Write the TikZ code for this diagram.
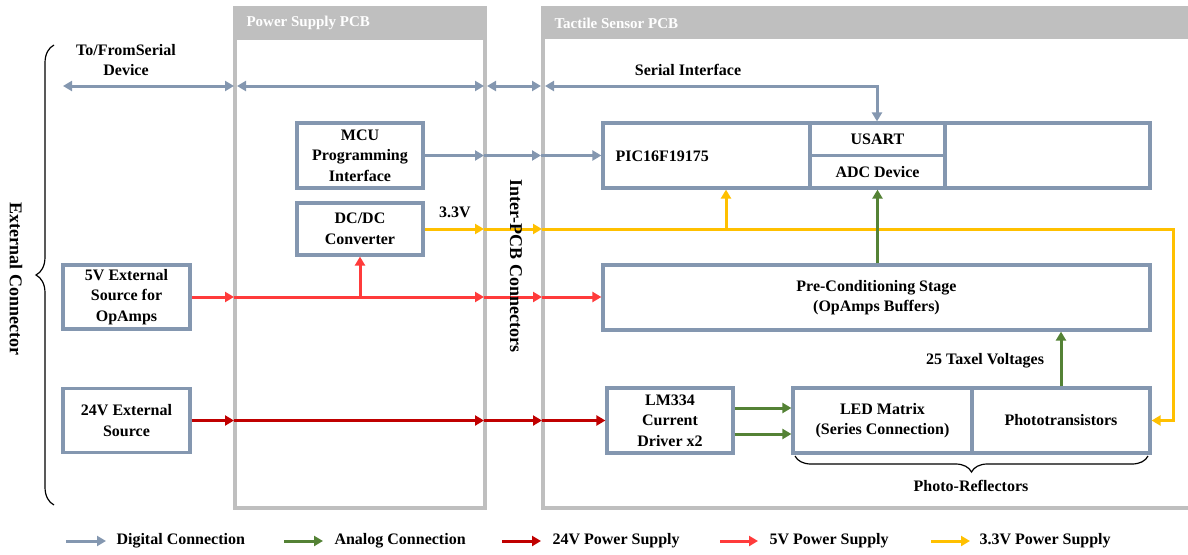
\documentclass[tikz,border=0pt]{standalone}
\usepackage{fontspec}
\setmainfont{Liberation Serif}
\usetikzlibrary{arrows.meta,decorations.pathreplacing,calc}
\definecolor{dig}{HTML}{8497B0}
\definecolor{ana}{HTML}{548235}
\definecolor{pwA}{HTML}{C00000}
\definecolor{pwB}{HTML}{FF3B3B}
\definecolor{pwC}{HTML}{FFC000}
\definecolor{pcb}{HTML}{BFBFBF}
\tikzset{
  >={Triangle[length=9pt,width=10pt]},
  blk/.style={draw=dig, line width=3.2pt, fill=white, align=center, inner sep=0pt},
  lbl/.style={align=center},
  pcbline/.style={draw=pcb, line width=3.5pt},
  pcbtitle/.style={text=white, font=\fontsize{15}{18}\selectfont\bfseries, anchor=west},
  sidetext/.style={font=\fontsize{18}{21}\selectfont\bfseries, rotate=-90},
  dg/.style={draw=dig, line width=3pt},
  an/.style={draw=ana, line width=3pt},
  p24/.style={draw=pwA, line width=3pt},
  p5/.style={draw=pwB, line width=3pt},
  p33/.style={draw=pwC, line width=3pt},
  brc/.style={draw=black, line width=1.2pt, decorate, decoration={brace, amplitude=#1}},
}
\begin{document}
\begin{tikzpicture}[x=1pt, y=-1pt, font=\fontsize{16}{20.5}\selectfont\bfseries]
\useasboundingbox (0,0) rectangle (1188,554);
\clip (0,0) rectangle (1188,554);

% board frames
\fill[pcb] (233,5.5) rectangle (487,38.5);
\draw[pcbline] (235,38.5) rectangle (485,508);
\fill[pcb] (541,5.5) rectangle (1195,38.5);
\draw[pcbline] (543,38.5) -- (543,508) -- (1195,508);
\node[pcbtitle] (pstitle) at (243,23) {Power Supply PCB};
\node[pcbtitle] (tstitle) at (551,23) {Tactile Sensor PCB};

% blocks
\node[blk, minimum width=126, minimum height=65] (mcu) at (360,155.5) {MCU\\Programming\\Interface};
\node[blk, minimum width=126, minimum height=52] (dcdc) at (360,229) {DC/DC\\Converter};
\node[blk, minimum width=127, minimum height=64] (src5) at (126.5,297) {5V External\\Source for\\OpAmps};
\node[blk, minimum width=127, minimum height=64] (src24) at (126.5,420.5) {24V External\\Source};
\node[blk, minimum width=126, minimum height=65] (lm) at (670,420.5) {LM334\\Current\\Driver x2};
\node[blk, minimum width=547, minimum height=65] (pic) at (876.5,155.5) {};
\node[anchor=west] (pictext) at (612,156) {PIC16F19175};
\node[blk, minimum width=135, minimum height=32.5] (usart) at (877.5,139.25) {USART};
\node[blk, minimum width=135, minimum height=32.5] (adc) at (877.5,171.75) {ADC Device};
\node[blk, minimum width=547, minimum height=65] (pre) at (876.5,297.5) {Pre-Conditioning Stage\\(OpAmps Buffers)};
\node[blk, minimum width=179, minimum height=65] (led) at (882.5,420.5) {LED Matrix\\(Series Connection)};
\node[blk, minimum width=178, minimum height=65] (photo) at (1061,420.5) {Phototransistors};

% labels
\node[lbl] (lblser) at (126,60) {To/FromSerial\\Device};
\node[lbl] (lblsi) at (688,70) {Serial Interface};
\node[lbl] (lbl33) at (455,212) {3.3V};
\node[lbl] (lbltax) at (985,361) {25 Taxel Voltages};
\node[lbl] (lblpr) at (971,486) {Photo-Reflectors};

% braces
\draw[brc=18pt] (54,505) -- (54,45);
\draw[brc=16pt] (1148,456) -- (795,456);

% serial link
\coordinate (s0) at (63,86);
\coordinate (s1) at (234,86);
\coordinate (s2) at (237,86);
\coordinate (s3) at (484,86);
\coordinate (s4) at (487,86);
\coordinate (s5) at (541,86);
\coordinate (s6) at (545,86);
\coordinate (s7) at (877,86);
\draw[dg,<->] (s0) -- (s1);
\draw[dg,<->] (s2) -- (s3);
\draw[dg,<->] (s4) -- (s5);
\draw[dg,<->] (s6) -- (s7) -- (s7 |- usart.north);

% programming interface
\coordinate (m1) at (484,155.5);
\coordinate (m2) at (541,155.5);
\draw[dg,->] (mcu.east) -- (m1);
\draw[dg,->] (m1) -- (m2);
\draw[dg,->] (m2) -- (m2 -| pic.west);

% 3.3V rail
\coordinate (y1) at (484,229);
\coordinate (y2) at (542,229);
\coordinate (yj) at (726,229);
\coordinate (y3) at (1173,229);
\draw[p33,->] (dcdc.east) -- (y1);
\draw[p33,->] (y1) -- (y2);
\draw[p33,->] (y2) -- (y3) -- (y3 |- photo.east) -- (photo.east);
\draw[p33,->] (yj) -- (yj |- pic.south);

% 5V rail
\coordinate (r1) at (234,297);
\coordinate (rj) at (360,297);
\coordinate (r2) at (484,297);
\coordinate (r3) at (542,297);
\draw[p5,->] (src5.east) -- (r1);
\draw[p5,->] (r1) -- (r2);
\draw[p5,->] (r2) -- (r3);
\draw[p5,->] (r3) -- (r3 -| pre.west);
\draw[p5,->] (rj) -- (dcdc.south);

% 24V rail
\coordinate (d1) at (234,420.5);
\coordinate (d2) at (484,420.5);
\coordinate (d3) at (542,420.5);
\draw[p24,->] (src24.east) -- (d1);
\draw[p24,->] (d1) -- (d2);
\draw[p24,->] (d2) -- (d3);
\draw[p24,->] (d3) -- (lm.west);

% analog paths
\draw[an,->] ([yshift=12.5pt]lm.east) -- ([yshift=12.5pt]lm.east -| led.west);
\draw[an,->] ([yshift=-13.5pt]lm.east) -- ([yshift=-13.5pt]lm.east -| led.west);
\draw[an,->] (photo.north) -- (photo.north |- pre.south);
\draw[an,->] (adc.south |- pre.north) -- (adc.south);

% side captions, set over the rails
\node[sidetext] (lblext) at (16,279) {External Connector};
\node[sidetext] (lblipc) at (516,266) {Inter-PCB Connectors};

% legend
\coordinate (la0) at (66,541);   \coordinate (la1) at (106,541);
\coordinate (lb0) at (284,541);  \coordinate (lb1) at (323,541);
\coordinate (lc0) at (502,541);  \coordinate (lc1) at (541,541);
\coordinate (ld0) at (720,541);  \coordinate (ld1) at (758,541);
\coordinate (le0) at (931,541);  \coordinate (le1) at (970,541);
\draw[dg,->] (la0) -- (la1);
\draw[an,->] (lb0) -- (lb1);
\draw[p24,->] (lc0) -- (lc1);
\draw[p5,->] (ld0) -- (ld1);
\draw[p33,->] (le0) -- (le1);
\node[anchor=west] (lga) at (113,541) {Digital Connection};
\node[anchor=west] (lgb) at (331,541) {Analog Connection};
\node[anchor=west] (lgc) at (549,541) {24V Power Supply};
\node[anchor=west] (lgd) at (766,541) {5V Power Supply};
\node[anchor=west] (lge) at (976,541) {3.3V Power Supply};
\end{tikzpicture}
\end{document}
